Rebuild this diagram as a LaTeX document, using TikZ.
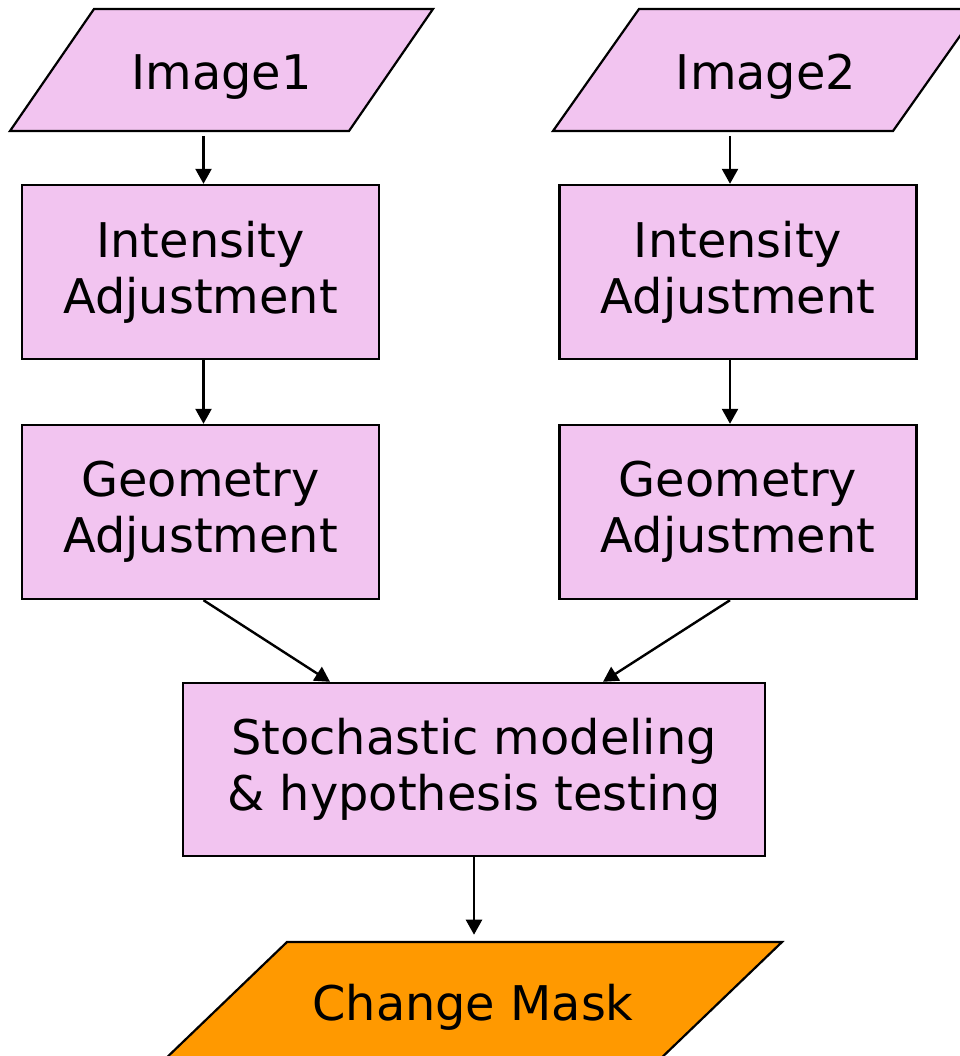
\documentclass[tikz,border=0pt]{standalone}
\usepackage{fontspec}
\setmainfont{DejaVu Sans}
\usetikzlibrary{positioning,arrows.meta}
\definecolor{boxpink}{RGB}{242,196,240}
\definecolor{maskorange}{RGB}{255,153,0}

\begin{document}
\begin{tikzpicture}[x=0.25mm,y=-0.25mm,
 font=\fontsize{34}{40}\selectfont,
 b/.style={draw=black,line width=0.6mm,fill=boxpink,align=center,
 minimum width=89.25mm,minimum height=43.5mm,inner sep=0pt},
 io/.style={inner sep=0pt,minimum height=30.5mm,text height=10.25mm,text depth=0pt},
 par/.style={draw=black,line width=0.55mm,fill=boxpink},
 a/.style={-{Triangle[length=3.75mm,width=4mm]},line width=0.6mm}]
\useasboundingbox (0,0) rectangle (960,1056);
\clip (0,0) rectangle (960,1056);
% input and output shapes
\path[par] (10,131) -- (349,131) -- (433,9) -- (94,9) -- cycle;
\path[par] (553,131) -- (893,131) -- (979,9) -- (639,9) -- cycle;
\path[par,fill=maskorange] (160,1064) -- (655,1064) -- (782,942) -- (287,942) -- cycle;
\node[io] (img1) at (221.5,68.5) {Image1};
\node[io] (img2) at (766,68.5) {Image2};
\node[io] (mask) at (473,1000) {Change Mask};
% processing steps
\node[b] (int1) at (200.5,272) {Intensity\\Adjustment};
\node[b] (int2) at (738,272) {Intensity\\Adjustment};
\node[b] (geo1) at (200.5,512) {Geometry\\Adjustment};
\node[b] (geo2) at (738,512) {Geometry\\Adjustment};
\node[b,minimum width=145.5mm,minimum height=43.25mm] (stoch) at (474,769.5)
 {Stochastic modeling\\\& hypothesis testing};
% connectors
\draw[a,shorten <=1.5mm] ([xshift=0.75mm]int1.north |- img1.south) -- ([xshift=0.75mm]int1.north);
\draw[a,shorten <=1.5mm] ([xshift=-2mm]int2.north |- img2.south) -- ([xshift=-2mm]int2.north);
\draw[a] ([xshift=0.75mm]int1.south) -- ([xshift=0.75mm]geo1.north);
\draw[a] ([xshift=-2mm]int2.south) -- ([xshift=-2mm]geo2.north);
\draw[a] ([xshift=0.75mm]geo1.south) -- ([xshift=-36mm]stoch.north);
\draw[a] ([xshift=-2mm]geo2.south) -- ([xshift=32.25mm]stoch.north);
\draw[a,shorten >=1mm] (stoch.south) -- (stoch.south |- mask.north);
\end{tikzpicture}
\end{document}
